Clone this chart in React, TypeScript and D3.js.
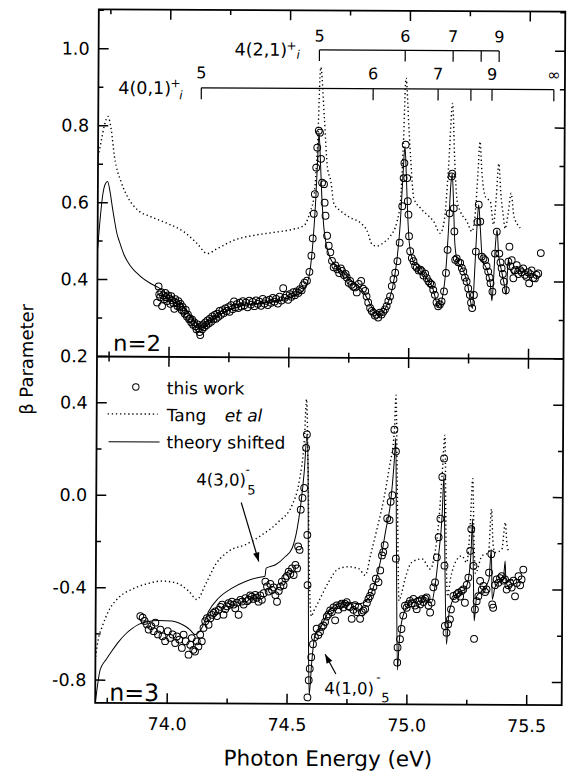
import React from "react";
import * as d3 from "d3";

type P = [number, number];

// ---------- axis definitions ----------
const xAnchor: P = [74.0, 75.5];
const xTickValues = [73.75, 74.0, 74.25, 74.5, 74.75, 75.0, 75.25, 75.5];
const xTickLabels = [74.0, 74.5, 75.0, 75.5];
const topAnchor: P = [0.2, 1.0];
const topTickValues = [0.2, 0.3, 0.4, 0.5, 0.6, 0.7, 0.8, 0.9, 1.0, 1.1];
const topTickLabels = [0.2, 0.4, 0.6, 0.8, 1.0];
const botAnchor: P = [-0.8, 0.4];
const botTickValues = [-0.8, -0.6, -0.4, -0.2, 0.0, 0.2, 0.4, 0.6];
const botTickLabels = [-0.8, -0.4, 0.0, 0.4];

// ---------- Rydberg series markers ----------
const series21E = [74.621, 74.979, 75.179, 75.296, 75.371];
const series21Labels = ["5", "6", "7", "", "9"];
const series01E = [74.129, 74.846, 75.117, 75.254, 75.342, 75.6];
const series01Labels = ["5", "6", "7", "", "9", "∞"];

// ---------- n = 2 panel ----------
const n2Theory: P[] = [
  [73.70, 0.48], [73.71, 0.56], [73.72, 0.62], [73.73, 0.648], [73.74, 0.655], [73.75, 0.63], [73.76, 0.59],
  [73.768, 0.56], [73.78, 0.52], [73.79, 0.5], [73.81, 0.465], [73.838, 0.435], [73.879, 0.409], [73.92, 0.391],
  [73.955, 0.38], [74.0, 0.36], [74.05, 0.34], [74.08, 0.315], [74.11, 0.29], [74.135, 0.277], [74.155, 0.28],
  [74.18, 0.297], [74.21, 0.31], [74.25, 0.322], [74.3, 0.333], [74.35, 0.338], [74.4, 0.342], [74.45, 0.346],
  [74.5, 0.354], [74.54, 0.365], [74.565, 0.38], [74.585, 0.42], [74.598, 0.5], [74.608, 0.6], [74.615, 0.7],
  [74.621, 0.785], [74.627, 0.72], [74.634, 0.62], [74.643, 0.54], [74.655, 0.49], [74.67, 0.46], [74.69, 0.44],
  [74.72, 0.425], [74.76, 0.40], [74.80, 0.38], [74.83, 0.35], [74.85, 0.326], [74.87, 0.313], [74.89, 0.318],
  [74.91, 0.34], [74.93, 0.38], [74.948, 0.45], [74.962, 0.55], [74.972, 0.67], [74.98, 0.75], [74.986, 0.68],
  [74.993, 0.57], [75.0, 0.5], [75.015, 0.455], [75.04, 0.432], [75.07, 0.41], [75.1, 0.38], [75.118, 0.34],
  [75.128, 0.332], [75.14, 0.36], [75.152, 0.42], [75.163, 0.53], [75.172, 0.65], [75.178, 0.68], [75.184, 0.6],
  [75.19, 0.5], [75.2, 0.455], [75.225, 0.43], [75.245, 0.39], [75.258, 0.345], [75.265, 0.33], [75.273, 0.42],
  [75.282, 0.54], [75.289, 0.6], [75.296, 0.54], [75.305, 0.46], [75.325, 0.43], [75.34, 0.39], [75.346, 0.35],
  [75.352, 0.4], [75.36, 0.5], [75.366, 0.535], [75.373, 0.47], [75.385, 0.43], [75.398, 0.39], [75.405, 0.366],
  [75.41, 0.42], [75.414, 0.46], [75.42, 0.435], [75.435, 0.42], [75.45, 0.44], [75.465, 0.425], [75.48, 0.43],
];

const n2Tang: P[] = [
  [73.70, 0.72], [73.7125, 0.76], [73.725, 0.80], [73.74, 0.824], [73.754, 0.79], [73.768, 0.72], [73.796, 0.655],
  [73.824, 0.615], [73.865, 0.582], [73.921, 0.564], [73.99, 0.547], [74.06, 0.525], [74.115, 0.495], [74.157, 0.469],
  [74.199, 0.482], [74.268, 0.504], [74.351, 0.517], [74.435, 0.525], [74.518, 0.534], [74.56, 0.543], [74.5875, 0.582],
  [74.601, 0.616], [74.615, 0.75], [74.627, 0.955], [74.643, 0.824], [74.657, 0.694], [74.671, 0.66], [74.685, 0.60],
  [74.7125, 0.582], [74.754, 0.564], [74.796, 0.551], [74.824, 0.53], [74.845, 0.495], [74.865, 0.491], [74.893, 0.50],
  [74.921, 0.517], [74.949, 0.556], [74.9625, 0.608], [74.973, 0.75], [74.983, 0.928], [74.996, 0.80], [75.004, 0.72],
  [75.018, 0.616], [75.046, 0.59], [75.074, 0.573], [75.101, 0.556], [75.129, 0.525], [75.146, 0.56], [75.1625, 0.70],
  [75.178, 0.863], [75.1875, 0.72], [75.199, 0.608], [75.2125, 0.582], [75.24, 0.556], [75.261, 0.53], [75.275, 0.58],
  [75.285, 0.68], [75.293, 0.764], [75.302, 0.68], [75.317, 0.62], [75.3375, 0.608], [75.351, 0.548], [75.362, 0.62],
  [75.372, 0.707], [75.381, 0.63], [75.392, 0.57], [75.4, 0.538], [75.4125, 0.58], [75.424, 0.63], [75.435, 0.574],
  [75.45, 0.55], [75.4625, 0.54],
];

const n2Data: P[] = [
  [73.949, 0.341], [73.955, 0.383], [73.958, 0.362], [73.962, 0.355], [73.966, 0.368], [73.97, 0.332], [73.974, 0.36],
  [73.978, 0.35], [73.983, 0.366], [73.987, 0.355], [73.991, 0.345], [73.995, 0.36], [74.0, 0.352], [74.004, 0.338],
  [74.008, 0.358], [74.012, 0.347], [74.017, 0.34], [74.021, 0.325], [74.025, 0.35], [74.03, 0.34], [74.034, 0.332],
  [74.038, 0.345], [74.043, 0.33], [74.047, 0.338], [74.052, 0.322], [74.056, 0.33], [74.06, 0.318], [74.065, 0.312],
  [74.069, 0.322], [74.074, 0.305], [74.078, 0.31], [74.083, 0.298], [74.087, 0.3], [74.092, 0.29], [74.096, 0.297],
  [74.1, 0.284], [74.105, 0.29], [74.11, 0.28], [74.114, 0.272], [74.118, 0.285], [74.123, 0.275], [74.127, 0.265],
  [74.13, 0.257], [74.134, 0.28], [74.138, 0.272], [74.142, 0.285], [74.147, 0.278], [74.151, 0.29], [74.155, 0.283],
  [74.16, 0.295], [74.165, 0.287], [74.17, 0.3], [74.175, 0.292], [74.18, 0.306], [74.185, 0.298], [74.19, 0.31],
  [74.195, 0.3], [74.2, 0.313], [74.205, 0.305], [74.21, 0.32], [74.216, 0.31], [74.222, 0.322], [74.228, 0.315],
  [74.234, 0.327], [74.24, 0.32], [74.246, 0.33], [74.252, 0.318], [74.258, 0.335], [74.264, 0.325], [74.27, 0.345],
  [74.276, 0.33], [74.282, 0.338], [74.288, 0.328], [74.294, 0.342], [74.3, 0.332], [74.307, 0.346], [74.313, 0.335],
  [74.32, 0.342], [74.327, 0.33], [74.334, 0.347], [74.341, 0.337], [74.348, 0.344], [74.355, 0.333], [74.362, 0.348],
  [74.369, 0.339], [74.376, 0.345], [74.383, 0.334], [74.39, 0.352], [74.397, 0.34], [74.404, 0.347], [74.411, 0.336],
  [74.418, 0.35], [74.425, 0.342], [74.432, 0.355], [74.439, 0.345], [74.446, 0.352], [74.453, 0.34], [74.46, 0.358],
  [74.468, 0.348], [74.475, 0.38], [74.482, 0.355], [74.489, 0.362], [74.496, 0.35], [74.503, 0.365], [74.51, 0.358],
  [74.517, 0.37], [74.524, 0.362], [74.531, 0.372], [74.538, 0.368], [74.545, 0.378], [74.552, 0.375], [74.558, 0.388],
  [74.564, 0.395], [74.574, 0.40], [74.584, 0.423], [74.592, 0.465], [74.597, 0.51], [74.601, 0.574], [74.605, 0.625],
  [74.61, 0.694], [74.614, 0.746], [74.62, 0.79], [74.625, 0.785], [74.63, 0.717], [74.635, 0.655], [74.643, 0.651],
  [74.646, 0.603], [74.65, 0.569], [74.657, 0.517], [74.664, 0.491], [74.671, 0.474], [74.678, 0.452], [74.685, 0.435],
  [74.692, 0.44], [74.70, 0.43], [74.708, 0.42], [74.715, 0.432], [74.72, 0.426], [74.728, 0.415], [74.735, 0.418],
  [74.74, 0.409], [74.748, 0.395], [74.754, 0.40], [74.76, 0.39], [74.768, 0.385], [74.775, 0.383], [74.782, 0.37],
  [74.79, 0.392], [74.80, 0.40], [74.808, 0.38], [74.817, 0.374], [74.823, 0.36], [74.83, 0.344], [74.838, 0.33],
  [74.845, 0.322], [74.852, 0.318], [74.858, 0.31], [74.865, 0.313], [74.872, 0.305], [74.879, 0.318], [74.886, 0.313],
  [74.893, 0.32], [74.90, 0.326], [74.907, 0.335], [74.914, 0.348], [74.921, 0.36], [74.928, 0.387], [74.935, 0.405],
  [74.942, 0.422], [74.951, 0.452], [74.96, 0.50], [74.97, 0.595], [74.975, 0.668], [74.978, 0.707], [74.983, 0.755],
  [74.99, 0.668], [74.993, 0.608], [74.996, 0.573], [74.999, 0.517], [75.004, 0.478], [75.011, 0.46], [75.018, 0.452],
  [75.025, 0.44], [75.032, 0.435], [75.04, 0.428], [75.047, 0.43], [75.053, 0.426], [75.06, 0.415], [75.067, 0.42],
  [75.074, 0.408], [75.081, 0.40], [75.088, 0.395], [75.095, 0.391], [75.101, 0.378], [75.108, 0.365], [75.115, 0.345],
  [75.122, 0.335], [75.129, 0.34], [75.136, 0.348], [75.146, 0.374], [75.154, 0.422], [75.16, 0.482], [75.168, 0.577],
  [75.175, 0.673], [75.178, 0.68], [75.185, 0.59], [75.188, 0.53], [75.192, 0.456], [75.198, 0.46], [75.205, 0.45],
  [75.213, 0.448], [75.22, 0.435], [75.226, 0.426], [75.233, 0.41], [75.24, 0.40], [75.247, 0.382], [75.254, 0.365],
  [75.259, 0.345], [75.264, 0.331], [75.271, 0.365], [75.278, 0.478], [75.284, 0.555], [75.289, 0.60], [75.296, 0.556],
  [75.303, 0.465], [75.31, 0.46], [75.317, 0.456], [75.323, 0.44], [75.33, 0.426], [75.336, 0.41], [75.34, 0.396],
  [75.348, 0.374], [75.358, 0.473], [75.365, 0.53], [75.376, 0.473], [75.381, 0.45], [75.386, 0.435], [75.391, 0.42],
  [75.396, 0.40], [75.404, 0.378], [75.414, 0.452], [75.418, 0.491], [75.423, 0.44], [75.428, 0.456], [75.435, 0.409],
  [75.442, 0.43], [75.449, 0.443], [75.456, 0.42], [75.463, 0.43], [75.47, 0.425], [75.476, 0.435], [75.483, 0.418],
  [75.49, 0.413], [75.496, 0.425], [75.501, 0.396], [75.506, 0.42], [75.511, 0.43], [75.518, 0.41], [75.525, 0.409],
  [75.532, 0.418], [75.539, 0.422], [75.549, 0.475],
];

// ---------- n = 3 panel ----------
const n3Theory: P[] = [
  [73.70, -0.90], [73.72, -0.754], [73.745, -0.71], [73.768, -0.674], [73.795, -0.635], [73.824, -0.601],
  [73.85, -0.578], [73.879, -0.558], [73.92, -0.545], [73.9625, -0.541], [74.018, -0.543], [74.05, -0.552],
  [74.074, -0.565], [74.095, -0.582], [74.115, -0.601], [74.143, -0.572], [74.171, -0.50], [74.2125, -0.442],
  [74.268, -0.399], [74.324, -0.37], [74.379, -0.352], [74.405, -0.347], [74.41, -0.312], [74.449, -0.297],
  [74.49, -0.261], [74.518, -0.225], [74.539, -0.138], [74.553, -0.036], [74.567, 0.109], [74.578, 0.27],
  [74.583, 0.1], [74.588, -0.6], [74.592, -0.86], [74.602, -0.72], [74.615, -0.601], [74.636, -0.572],
  [74.671, -0.50], [74.7125, -0.464], [74.754, -0.457], [74.796, -0.464], [74.8375, -0.442], [74.865, -0.37],
  [74.886, -0.283], [74.907, -0.152], [74.928, -0.022], [74.942, 0.152], [74.948, 0.254], [74.953, -0.2],
  [74.96, -0.75], [74.966, -0.64], [74.976, -0.543], [75.004, -0.464], [75.032, -0.442], [75.074, -0.435],
  [75.101, -0.457], [75.115, -0.384], [75.129, -0.254], [75.143, -0.08], [75.15, 0.094], [75.156, -0.3],
  [75.164, -0.638], [75.172, -0.52], [75.185, -0.457], [75.2125, -0.413], [75.24, -0.399], [75.254, -0.355],
  [75.265, -0.225], [75.27, -0.094], [75.275, -0.35], [75.279, -0.536], [75.289, -0.428], [75.317, -0.399],
  [75.34, -0.355], [75.349, -0.225], [75.354, -0.442], [75.365, -0.39], [75.379, -0.37], [75.4, -0.355],
  [75.407, -0.275], [75.411, -0.37], [75.425, -0.36], [75.44, -0.355],
];

const n3Tang: P[] = [
  [73.70, -0.70], [73.7125, -0.616], [73.726, -0.572], [73.754, -0.50], [73.796, -0.442], [73.851, -0.406],
  [73.907, -0.384], [73.976, -0.37], [74.032, -0.377], [74.0875, -0.413], [74.122, -0.449], [74.157, -0.384],
  [74.199, -0.297], [74.254, -0.239], [74.324, -0.21], [74.393, -0.167], [74.4625, -0.109], [74.518, -0.036],
  [74.546, 0.065], [74.567, 0.254], [74.575, 0.42], [74.583, 0.1], [74.592, -0.40], [74.60, -0.52],
  [74.608, -0.50], [74.629, -0.457], [74.671, -0.37], [74.7125, -0.312], [74.754, -0.304], [74.796, -0.312],
  [74.824, -0.341], [74.845, -0.254], [74.872, -0.138], [74.9, -0.007], [74.921, 0.123], [74.942, 0.283],
  [74.948, 0.44], [74.956, 0.0], [74.965, -0.45], [74.975, -0.42], [74.99, -0.355], [75.018, -0.283],
  [75.06, -0.268], [75.095, -0.312], [75.1125, -0.25], [75.129, -0.109], [75.143, 0.109], [75.153, 0.268],
  [75.16, -0.2], [75.167, -0.43], [75.18, -0.35], [75.199, -0.283], [75.226, -0.254], [75.247, -0.283],
  [75.261, -0.109], [75.27, 0.08], [75.277, -0.2], [75.283, -0.33], [75.31, -0.254], [75.3375, -0.24],
  [75.349, -0.051], [75.356, -0.2], [75.365, -0.239], [75.393, -0.225], [75.407, -0.109], [75.414, -0.2],
  [75.42, -0.23],
];

const n3Data: P[] = [
  [73.886, -0.522], [73.896, -0.529], [73.904, -0.543], [73.914, -0.558], [73.921, -0.58], [73.932, -0.565],
  [73.942, -0.587], [73.949, -0.55], [73.96, -0.601], [73.97, -0.58], [73.979, -0.609], [73.99, -0.63],
  [74.001, -0.587], [74.011, -0.616], [74.021, -0.601], [74.032, -0.638], [74.039, -0.609], [74.049, -0.623],
  [74.06, -0.659], [74.067, -0.601], [74.076, -0.63], [74.088, -0.688], [74.095, -0.645], [74.101, -0.616],
  [74.108, -0.667], [74.115, -0.674], [74.122, -0.63], [74.129, -0.652], [74.136, -0.601], [74.143, -0.63],
  [74.15, -0.572], [74.157, -0.543], [74.164, -0.529], [74.171, -0.558], [74.178, -0.53], [74.185, -0.515],
  [74.192, -0.507], [74.199, -0.5], [74.206, -0.52], [74.213, -0.493], [74.22, -0.48], [74.227, -0.471],
  [74.233, -0.514], [74.24, -0.49], [74.247, -0.478], [74.254, -0.464], [74.261, -0.47], [74.268, -0.457],
  [74.275, -0.47], [74.282, -0.486], [74.289, -0.462], [74.296, -0.514], [74.303, -0.45], [74.31, -0.457],
  [74.317, -0.47], [74.324, -0.442], [74.331, -0.455], [74.338, -0.449], [74.344, -0.43], [74.351, -0.435],
  [74.358, -0.445], [74.365, -0.428], [74.372, -0.44], [74.379, -0.457], [74.386, -0.43], [74.393, -0.449],
  [74.4, -0.42], [74.407, -0.37], [74.414, -0.391], [74.421, -0.413], [74.428, -0.38], [74.435, -0.406],
  [74.442, -0.395], [74.449, -0.428], [74.456, -0.457], [74.463, -0.41], [74.47, -0.391], [74.476, -0.37],
  [74.483, -0.385], [74.49, -0.355], [74.497, -0.345], [74.504, -0.326], [74.511, -0.335], [74.518, -0.312],
  [74.525, -0.341], [74.532, -0.297], [74.539, -0.312], [74.543, -0.217], [74.549, -0.232], [74.553, -0.058],
  [74.56, -0.007], [74.567, 0.036], [74.574, 0.21], [74.577, 0.268], [74.581, -0.167], [74.583, -0.384],
  [74.585, -0.87], [74.59, -0.796], [74.594, -0.746], [74.6, -0.696], [74.607, -0.64], [74.615, -0.609],
  [74.622, -0.572], [74.629, -0.6], [74.636, -0.587], [74.643, -0.565], [74.65, -0.558], [74.657, -0.543],
  [74.664, -0.52], [74.671, -0.51], [74.678, -0.493], [74.685, -0.5], [74.692, -0.48], [74.699, -0.536],
  [74.705, -0.471], [74.712, -0.49], [74.719, -0.47], [74.726, -0.464], [74.733, -0.48], [74.74, -0.465],
  [74.747, -0.457], [74.754, -0.475], [74.761, -0.478], [74.768, -0.529], [74.775, -0.49], [74.782, -0.47],
  [74.789, -0.50], [74.796, -0.48], [74.803, -0.529], [74.81, -0.5], [74.817, -0.493], [74.824, -0.486],
  [74.831, -0.46], [74.8375, -0.442], [74.844, -0.43], [74.851, -0.413], [74.858, -0.39], [74.868, -0.355],
  [74.879, -0.37], [74.886, -0.319], [74.893, -0.254], [74.898, -0.24], [74.904, -0.21], [74.914, -0.094],
  [74.924, -0.101], [74.928, -0.022], [74.935, 0.007], [74.942, 0.29], [74.949, 0.196], [74.951, -0.268],
  [74.959, -0.717], [74.96, -0.652], [74.97, -0.616], [74.976, -0.572], [74.983, -0.514], [74.99, -0.471],
  [74.997, -0.48], [75.004, -0.464], [75.011, -0.45], [75.018, -0.46], [75.025, -0.442], [75.032, -0.47],
  [75.039, -0.486], [75.046, -0.45], [75.053, -0.465], [75.06, -0.442], [75.067, -0.455], [75.074, -0.44],
  [75.08, -0.435], [75.088, -0.47], [75.095, -0.50], [75.101, -0.457], [75.108, -0.391], [75.115, -0.37],
  [75.122, -0.261], [75.129, -0.174], [75.136, -0.094], [75.143, 0.087], [75.15, 0.167], [75.154, -0.297],
  [75.157, -0.558], [75.164, -0.587], [75.171, -0.55], [75.178, -0.529], [75.182, -0.486], [75.192, -0.428],
  [75.2, -0.44], [75.206, -0.42], [75.213, -0.413], [75.22, -0.43], [75.226, -0.406], [75.233, -0.399],
  [75.24, -0.457], [75.247, -0.38], [75.254, -0.348], [75.261, -0.232], [75.265, -0.138], [75.275, -0.297],
  [75.279, -0.613], [75.282, -0.486], [75.289, -0.45], [75.296, -0.428], [75.303, -0.362], [75.31, -0.4],
  [75.317, -0.384], [75.324, -0.41], [75.33, -0.399], [75.34, -0.326], [75.349, -0.246], [75.354, -0.464],
  [75.358, -0.478], [75.365, -0.38], [75.372, -0.355], [75.379, -0.37], [75.386, -0.35], [75.393, -0.341],
  [75.4, -0.36], [75.407, -0.355], [75.414, -0.399], [75.421, -0.38], [75.428, -0.37], [75.435, -0.39],
  [75.442, -0.36], [75.449, -0.428], [75.456, -0.37], [75.463, -0.341], [75.47, -0.38], [75.476, -0.355],
  [75.483, -0.312],
];

// ---------- layout ----------
const W = 571;
const H = 775;
const L = 97;
const R = 563.5;
const T = 10.5;
const M = 357.7;
const B = 704;
const FONT = "'DejaVu Sans', Verdana, sans-serif";
const DOT = "1.3 2.8";

export default function App() {
  const x = d3.scaleLinear().domain(xAnchor).range([169, 528.5]);
  const yT = d3.scaleLinear().domain(topAnchor).range([M, 50]);
  const yB = d3.scaleLinear().domain(botAnchor).range([681.3, 404]);

  const lineT = d3.line<P>().x((d) => x(d[0])).y((d) => yT(d[1])).curve(d3.curveMonotoneX);
  const lineB = d3.line<P>().x((d) => x(d[0])).y((d) => yB(d[1])).curve(d3.curveMonotoneX);

  const isMajorX = (v: number) => Math.abs(v * 2 - Math.round(v * 2)) < 1e-6;
  const isMajorTop = (v: number) => Math.round(v * 10) % 2 === 0;
  const isMajorBot = (v: number) => Math.round(v * 10) % 4 === 0;
  const fmt = (v: number) => d3.format(".1f")(v).replace("\u2212", "-");

  const tickEls: React.ReactNode[] = [];
  xTickValues.forEach((v, i) => {
    const len = isMajorX(v) ? 10 : 5;
    const xx = x(v);
    tickEls.push(<line key={`xt${i}`} x1={xx} x2={xx} y1={T} y2={T + len} />);
    tickEls.push(<line key={`xm1${i}`} x1={xx} x2={xx} y1={M} y2={M - len} />);
    tickEls.push(<line key={`xm2${i}`} x1={xx} x2={xx} y1={M} y2={M + len} />);
    tickEls.push(<line key={`xb${i}`} x1={xx} x2={xx} y1={B} y2={B - len} />);
  });
  topTickValues.forEach((v, i) => {
    const len = isMajorTop(v) ? 10 : 5;
    const yy = yT(v);
    if (yy < T + 1) return;
    tickEls.push(<line key={`ytl${i}`} x1={L} x2={L + len} y1={yy} y2={yy} />);
    tickEls.push(<line key={`ytr${i}`} x1={R} x2={R - len} y1={yy} y2={yy} />);
  });
  botTickValues.forEach((v, i) => {
    const len = isMajorBot(v) ? 10 : 5;
    const yy = yB(v);
    if (yy < M + 1) return;
    tickEls.push(<line key={`ybl${i}`} x1={L} x2={L + len} y1={yy} y2={yy} />);
    tickEls.push(<line key={`ybr${i}`} x1={R} x2={R - len} y1={yy} y2={yy} />);
  });

  const arrow1Tip: P = [x(74.379), yB(-0.283)];
  const arrow2Tip: P = [x(74.658), yB(-0.683)];
  const a1Tail: P = [242, 503];
  const a2Tail: P = [337.5, 674];

  const arrowHead = (tail: P, tip: P, size = 9, half = 3.2) => {
    const dx = tip[0] - tail[0];
    const dy = tip[1] - tail[1];
    const len = Math.hypot(dx, dy);
    const ux = dx / len;
    const uy = dy / len;
    const bx = tip[0] - ux * size;
    const by = tip[1] - uy * size;
    return `M${tip[0]},${tip[1]}L${bx - uy * half},${by + ux * half}L${bx + uy * half},${by - ux * half}Z`;
  };

  return (
    <svg width={W} height={H} viewBox={`0 0 ${W} ${H}`} style={{ display: "block", position: "absolute", left: 0, top: 0 }}>
      <rect width={W} height={H} fill="white" />
      <defs>
        <clipPath id="clipTop">
          <rect x={L} y={T} width={R - L} height={M - T} />
        </clipPath>
        <clipPath id="clipBot">
          <rect x={L} y={M} width={R - L} height={B - M} />
        </clipPath>
      </defs>

      <g transform="rotate(0.3 330 357)">
        {/* curves n=2 */}
        <g clipPath="url(#clipTop)" fill="none" stroke="black">
          <path d={lineT(n2Tang) || ""} strokeWidth={1.4} strokeDasharray={DOT} />
          <path d={lineT(n2Theory) || ""} strokeWidth={1} />
          {n2Data.map((d, i) => (
            <circle key={i} cx={x(d[0])} cy={yT(d[1])} r={3.4} strokeWidth={1} />
          ))}
        </g>

        {/* curves n=3 */}
        <g clipPath="url(#clipBot)" fill="none" stroke="black">
          <path d={lineB(n3Tang) || ""} strokeWidth={1.4} strokeDasharray={DOT} />
          <path d={lineB(n3Theory) || ""} strokeWidth={1} />
          {n3Data.map((d, i) => (
            <circle key={i} cx={x(d[0])} cy={yB(d[1])} r={3.4} strokeWidth={1} />
          ))}
        </g>

        {/* frames and ticks */}
        <g stroke="black" fill="none">
          <rect x={L} y={T} width={R - L} height={B - T} strokeWidth={1.8} />
          <line x1={L} x2={R} y1={M} y2={M} strokeWidth={1.8} />
          <g strokeWidth={1.5}>{tickEls}</g>
        </g>

        {/* tick labels */}
        <g fontFamily={FONT} fontSize={17.5} fill="black">
          {topTickLabels.map((v, i) => (
            <text key={`tl${i}`} x={88} y={yT(v)} textAnchor="end" dominantBaseline="central">
              {fmt(v)}
            </text>
          ))}
          {botTickLabels.map((v, i) => (
            <text key={`bl${i}`} x={88} y={yB(v)} textAnchor="end" dominantBaseline="central">
              {fmt(v)}
            </text>
          ))}
          {xTickLabels.map((v, i) => (
            <text key={`xl${i}`} x={x(v)} y={731} textAnchor="middle">
              {fmt(v)}
            </text>
          ))}
        </g>

        {/* axis titles */}
        <text x={330} y={766} textAnchor="middle" fontFamily={FONT} fontSize={21.5}>
          Photon Energy (eV)
        </text>
        <text transform="translate(33,361) rotate(-90)" textAnchor="middle" fontFamily={FONT} fontSize={18}>
          β Parameter
        </text>

        {/* panel labels */}
        <text x={113} y={352} fontFamily={FONT} fontSize={22} textLength={48} lengthAdjust="spacingAndGlyphs">
          n=2
        </text>
        <text x={111} y={702} fontFamily={FONT} fontSize={24} textLength={50} lengthAdjust="spacingAndGlyphs">
          n=3
        </text>

        {/* Rydberg series brackets */}
        <g stroke="black" strokeWidth={1.2} fill="none">
          <line x1={x(series21E[0])} x2={x(series21E[series21E.length - 1])} y1={50} y2={50} />
          {series21E.map((e, i) => (
            <line key={`s21${i}`} x1={x(e)} x2={x(e)} y1={50} y2={61} />
          ))}
          <line x1={x(series01E[0])} x2={x(series01E[series01E.length - 1])} y1={88.5} y2={88.5} />
          {series01E.map((e, i) => (
            <line key={`s01${i}`} x1={x(e)} x2={x(e)} y1={88.5} y2={100} />
          ))}
        </g>
        <g fontFamily={FONT} fontSize={16} fill="black" textAnchor="middle">
          {series21E.map((e, i) => (
            <text key={`s21t${i}`} x={x(e)} y={41.5}>
              {series21Labels[i]}
            </text>
          ))}
          {series01E.map((e, i) => (
            <text key={`s01t${i}`} x={x(e)} y={79}>
              {series01Labels[i]}
            </text>
          ))}
        </g>
        <g fontFamily={FONT} fill="black">
          <text x={233} y={56} fontSize={17.5}>4(2,1)</text>
          <text x={285} y={50} fontSize={12}>+</text>
          <text x={295} y={59} fontSize={12} fontStyle="italic">i</text>
          <text x={117} y={95} fontSize={17.5}>4(0,1)</text>
          <text x={169} y={88} fontSize={12}>+</text>
          <text x={178} y={100} fontSize={12} fontStyle="italic">i</text>
        </g>

        {/* legend */}
        <g fontFamily={FONT} fontSize={17} fill="black">
          <circle cx={136} cy={388} r={3.2} fill="none" stroke="black" strokeWidth={1} />
          <text x={167} y={395}>this work</text>
          <line x1={108} x2={158} y1={415} y2={415} stroke="black" strokeWidth={1.4} strokeDasharray={DOT} />
          <text x={167} y={422}>Tang</text>
          <text x={225} y={422} fontStyle="italic">et al</text>
          <line x1={109} x2={160} y1={443} y2={443} stroke="black" strokeWidth={1} />
          <text x={167} y={449}>theory shifted</text>
        </g>

        {/* annotations */}
        <g fontFamily={FONT} fill="black">
          <text x={197} y={486} fontSize={16.5}>4(3,0)</text>
          <text x={246} y={474} fontSize={12}>-</text>
          <text x={248} y={495} fontSize={13}>5</text>
          <line x1={a1Tail[0]} y1={a1Tail[1]} x2={arrow1Tip[0]} y2={arrow1Tip[1]} stroke="black" strokeWidth={1.2} />
          <path d={arrowHead(a1Tail, arrow1Tip)} fill="black" />

          <text x={326} y={694} fontSize={16.5}>4(1,0)</text>
          <text x={378} y={681} fontSize={12}>-</text>
          <text x={383} y={702} fontSize={13}>5</text>
          <line x1={a2Tail[0]} y1={a2Tail[1]} x2={arrow2Tip[0]} y2={arrow2Tip[1]} stroke="black" strokeWidth={1.2} />
          <path d={arrowHead(a2Tail, arrow2Tip)} fill="black" />
        </g>
      </g>
    </svg>
  );
}
